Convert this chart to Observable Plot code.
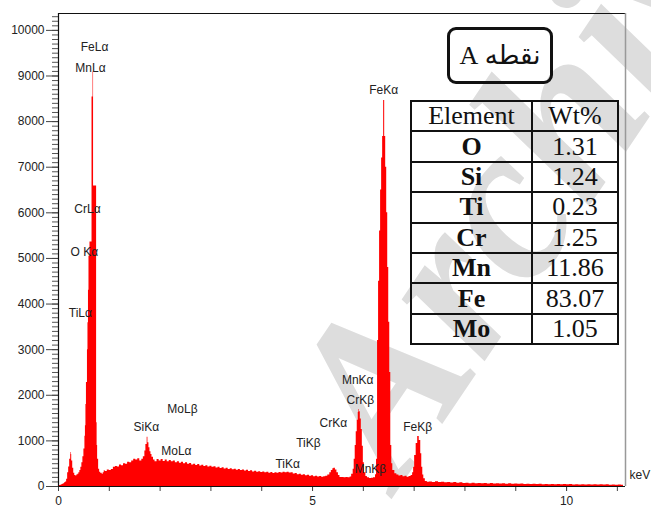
<!DOCTYPE html>
<html>
<head>
<meta charset="utf-8">
<script src="https://cdn.jsdelivr.net/npm/d3@7"></script>
<script src="https://cdn.jsdelivr.net/npm/@observablehq/plot@0.6"></script>
<style>
  html, body { margin: 0; padding: 0; background: #fff; }
  #wrap { position: relative; width: 651px; height: 508px; overflow: hidden; background: #fff; }
  #wm { position: absolute; left: 382px; top: 310px; font-family: "Liberation Serif", "Times New Roman", serif;
        font-weight: bold; font-style: italic; font-size: 225px; color: #dddddd; white-space: nowrap;
        transform-origin: 0 75%; transform: rotate(-56deg); line-height: 1; }
  #chart { position: absolute; left: 0; top: 0; }
  #box { position: absolute; left: 447px; top: 27px; width: 100px; height: 51px; border: 3px solid #111;
         border-radius: 9px; display: flex; align-items: center; justify-content: center;
         font-family: "Liberation Serif", "Times New Roman", "DejaVu Sans", serif; font-size: 26px; direction: rtl; color: #111; }
  #tbl { position: absolute; left: 410px; top: 100px; border-collapse: collapse;
         font-family: "Liberation Serif", "Times New Roman", serif; font-size: 26px; color: #111; }
  #tbl td { border: 2px solid #111; padding: 0; height: 28.4px; line-height: 26px; text-align: center; }
  #tbl td.el { width: 119px; }
  #tbl td.wt { width: 84px; }
  #tbl td.b { font-weight: bold; }
</style>
</head>
<body>
<div id="wrap">
  <div id="wm">Archive</div>
  <div id="chart"></div>
  <div id="box">نقطه A</div>
  <table id="tbl"></table>
</div>
<script>
// ---- spectrum data: [keV, counts] ----
const lowEnergy = [
  [0.00, 0], [0.02, 20], [0.04, 30], [0.06, 40], [0.08, 50], [0.10, 60], [0.12, 80], [0.14, 100],
  [0.16, 160], [0.18, 300], [0.20, 430], [0.22, 600], [0.24, 745], [0.25, 700], [0.26, 560],
  [0.28, 400], [0.30, 290], [0.32, 240], [0.34, 230], [0.36, 250], [0.38, 270], [0.40, 300],
  [0.42, 350], [0.44, 420], [0.46, 520], [0.48, 650], [0.50, 820], [0.52, 1100], [0.53, 1330],
  [0.54, 1800], [0.55, 2280], [0.57, 3000], [0.58, 3590], [0.59, 4300], [0.60, 5050]
];
const mainPeak = [
  [0.62, 5360], [0.64, 5360], [0.66, 8540], [0.675, 8540], [0.68, 9086], [0.69, 6590], [0.72, 6590],
  [0.74, 6590], [0.75, 1400], [0.76, 900], [0.77, 600], [0.79, 380], [0.81, 310], [0.83, 290],
  [0.86, 270], [0.88, 300], [0.90, 345]
];
const siRegion = [
  [0.92, 330], [0.96, 360], [1.00, 350], [1.04, 370], [1.08, 420], [1.12, 440], [1.16, 430],
  [1.20, 470], [1.24, 455], [1.28, 500], [1.32, 490], [1.36, 530], [1.40, 520], [1.44, 560],
  [1.48, 600], [1.52, 580], [1.56, 610], [1.60, 560], [1.64, 600], [1.67, 650], [1.70, 780],
  [1.72, 920], [1.745, 1080], [1.76, 960], [1.78, 850], [1.80, 760], [1.82, 700], [1.84, 640],
  [1.87, 580], [1.90, 540], [1.94, 590], [1.98, 560]
];
const background = [
  [2.02, 590], [2.06, 550], [2.10, 580], [2.14, 545], [2.18, 570], [2.22, 540], [2.26, 560],
  [2.30, 520], [2.34, 545], [2.38, 510], [2.42, 530], [2.46, 500], [2.50, 520], [2.54, 490],
  [2.58, 505], [2.62, 470], [2.66, 490], [2.70, 460], [2.74, 480], [2.78, 450], [2.82, 465],
  [2.86, 440], [2.90, 455], [2.94, 430], [2.98, 445], [3.02, 420], [3.06, 435], [3.10, 405],
  [3.14, 420], [3.18, 395], [3.22, 410], [3.26, 385], [3.30, 400], [3.34, 375], [3.38, 390],
  [3.42, 365], [3.46, 380], [3.50, 355], [3.54, 370], [3.58, 350], [3.62, 360], [3.66, 340],
  [3.70, 355], [3.74, 330], [3.78, 345], [3.82, 320], [3.86, 335], [3.90, 315], [3.94, 325],
  [3.98, 305], [4.02, 320], [4.06, 300], [4.10, 310], [4.14, 290], [4.18, 305], [4.22, 285],
  [4.26, 300], [4.30, 290], [4.34, 305], [4.38, 295], [4.42, 310], [4.46, 300], [4.50, 315],
  [4.54, 295], [4.58, 300], [4.62, 275], [4.66, 285], [4.70, 260], [4.74, 270], [4.78, 245],
  [4.82, 255], [4.86, 235], [4.90, 245], [4.94, 225], [4.98, 235], [5.02, 215], [5.06, 225],
  [5.10, 210], [5.14, 220], [5.18, 205], [5.22, 215]
];
const crMnRegion = [
  [5.26, 225], [5.30, 250], [5.34, 300], [5.37, 350], [5.40, 390], [5.42, 400], [5.45, 360],
  [5.48, 300], [5.51, 240], [5.54, 200], [5.58, 195], [5.62, 190], [5.66, 200], [5.70, 190],
  [5.74, 210], [5.77, 270], [5.80, 380], [5.82, 600], [5.84, 900], [5.86, 1200], [5.88, 1450],
  [5.90, 1620], [5.91, 1690], [5.92, 1640], [5.94, 1480], [5.96, 1250], [5.98, 880], [6.00, 520],
  [6.02, 300], [6.05, 220], [6.08, 190], [6.12, 175], [6.16, 180], [6.20, 190]
];
const feRegion = [
  [6.24, 260], [6.26, 600], [6.28, 3200], [6.30, 4500], [6.32, 5600], [6.34, 6500], [6.36, 7200],
  [6.38, 7675], [6.40, 8465], [6.42, 7675], [6.44, 7000], [6.46, 6000], [6.48, 4800], [6.50, 3600],
  [6.52, 2500], [6.54, 900], [6.56, 500], [6.58, 350], [6.62, 280], [6.66, 250], [6.70, 230],
  [6.74, 240], [6.78, 215], [6.82, 225], [6.86, 205], [6.90, 220], [6.94, 240], [6.97, 300],
  [6.99, 420], [7.01, 680], [7.04, 940], [7.07, 1096], [7.10, 1010], [7.13, 720], [7.15, 420],
  [7.17, 250], [7.19, 170], [7.22, 110], [7.26, 95]
];
const highEnergy = [
  [7.30, 100], [7.36, 90], [7.42, 105], [7.48, 88], [7.54, 95], [7.60, 82], [7.66, 90], [7.72, 78],
  [7.78, 86], [7.84, 74], [7.90, 80], [7.96, 66], [8.02, 74], [8.08, 62], [8.14, 70], [8.20, 60],
  [8.26, 68], [8.32, 58], [8.38, 66], [8.44, 56], [8.50, 64], [8.56, 55], [8.62, 62], [8.68, 54],
  [8.74, 60], [8.80, 52], [8.86, 58], [8.92, 50], [8.98, 56], [9.04, 48], [9.10, 54], [9.16, 45],
  [9.22, 50], [9.28, 43], [9.34, 48], [9.40, 42], [9.46, 47], [9.52, 40], [9.58, 46], [9.64, 39],
  [9.70, 45], [9.76, 38], [9.82, 44], [9.88, 37], [9.94, 43], [10.00, 36], [10.06, 42], [10.12, 35],
  [10.18, 41], [10.24, 34], [10.30, 40], [10.36, 33], [10.42, 39], [10.48, 33], [10.54, 38],
  [10.60, 32], [10.66, 37], [10.72, 31], [10.78, 36], [10.84, 30], [10.90, 35], [10.96, 29],
  [11.02, 34], [11.08, 28], [11.12, 0]
];

// ---- peak labels: [text, keV, counts] ----
const peakLabels = [
  ["FeLα", 0.71, 9627], ["MnLα", 0.63, 9167], ["CrLα", 0.57, 6075], ["O Kα", 0.51, 5130],
  ["TiLα", 0.43, 3794], ["SiKα", 1.73, 1294], ["MoLβ", 2.44, 1689], ["MoLα", 2.32, 768],
  ["TiKα", 4.51, 482], ["TiKβ", 4.92, 943], ["CrKα", 5.41, 1382], ["MnKα", 5.89, 2325],
  ["CrKβ", 5.94, 1886], ["FeKα", 6.40, 8684], ["MnKβ", 6.14, 373], ["FeKβ", 7.07, 1294]
];

// ---- axes ----
const xDomain = [0, 11.16];
const yDomain = [0, 10370];
const xMajorTicks = [0, 5, 10];
const xMinorTicks = [0, 1, 2, 3, 4, 5, 6, 7, 8, 9, 10, 11];
const yMajorTicks = [0, 1000, 2000, 3000, 4000, 5000, 6000, 7000, 8000, 9000, 10000];
const yMinorTicks = d3.range(0, 10301, 100);
const xUnit = "keV";

// ---- table ----
const elements = ["O", "Si", "Ti", "Cr", "Mn", "Fe", "Mo"];
const wtPercent = ["1.31", "1.24", "0.23", "1.25", "11.86", "83.07", "1.05"];

const spectrum = [...lowEnergy, ...mainPeak, ...siRegion, ...background, ...crMnRegion, ...feRegion, ...highEnergy]
  .map(([keV, counts]) => ({keV, counts}));
const labels = peakLabels.map(([text, keV, counts]) => ({text, keV, counts}));

const chart = Plot.plot({
  width: 651,
  height: 508,
  marginLeft: 58,
  marginRight: 26,
  marginTop: 13,
  marginBottom: 22,
  x: {domain: xDomain},
  y: {domain: yDomain},
  style: {background: "transparent", fontFamily: "'Liberation Sans', Arial, sans-serif", fontSize: "12px", color: "#222"},
  marks: [
    Plot.areaY(spectrum, {x: "keV", y: "counts", curve: "step-after", fill: "#ff0000"}),
    Plot.axisY({ticks: yMinorTicks, tickSize: 6, tickFormat: () => "", label: null, stroke: "#555"}),
    Plot.axisY({ticks: yMajorTicks, tickSize: 12, tickPadding: 2, tickFormat: d3.format("d"), label: null, stroke: "#444", fill: "#222"}),
    Plot.axisX({ticks: xMinorTicks, tickSize: 5, tickFormat: () => "", label: null, stroke: "#444"}),
    Plot.axisX({ticks: xMajorTicks, tickSize: 5, tickPadding: 5, tickFormat: d3.format("d"), label: null, stroke: "#444", fill: "#222"}),
    Plot.ruleY([yDomain[1]], {stroke: "#111", strokeWidth: 1.2}),
    Plot.ruleX([xDomain[1]], {stroke: "#999", strokeWidth: 1.5}),
    Plot.ruleX([0], {stroke: "#111", strokeWidth: 1.2}),
    Plot.ruleY([0], {stroke: "#111", strokeWidth: 1.2}),
    Plot.text(labels, {x: "keV", y: "counts", text: "text", fill: "#222", fontSize: 12}),
    Plot.text([xUnit], {frameAnchor: "bottom-right", dx: 4, dy: -8, textAnchor: "start", fill: "#222", fontSize: 12})
  ]
});
document.getElementById("chart").appendChild(chart);

// build table
const tbl = document.getElementById("tbl");
const head = document.createElement("tr");
head.innerHTML = `<td class="el">Element</td><td class="wt">Wt%</td>`;
tbl.appendChild(head);
elements.forEach((el, i) => {
  const tr = document.createElement("tr");
  const a = document.createElement("td"); a.className = "el b"; a.textContent = el;
  const b = document.createElement("td"); b.className = "wt"; b.textContent = wtPercent[i];
  tr.appendChild(a); tr.appendChild(b);
  tbl.appendChild(tr);
});
</script>
</body>
</html>
